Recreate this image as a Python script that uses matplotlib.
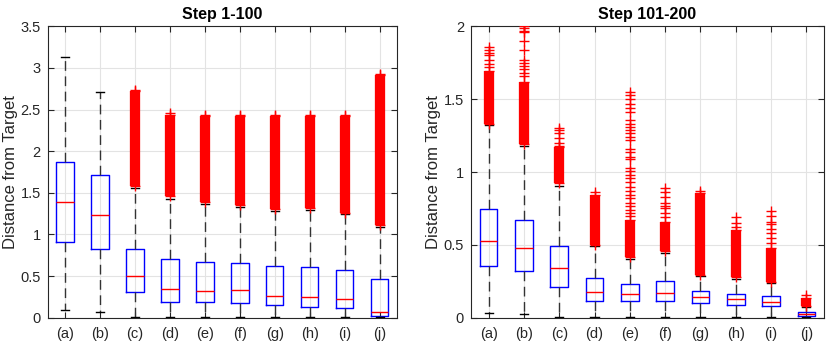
import matplotlib
matplotlib.use("Agg")
import matplotlib.pyplot as plt
import numpy as np

plt.rcParams['font.family'] = ['Liberation Sans', 'DejaVu Sans']

labels = ['(a)', '(b)', '(c)', '(d)', '(e)', '(f)', '(g)', '(h)', '(i)', '(j)']

# ---- Step 1-100 ----
s1_q1 = [0.905, 0.821, 0.304, 0.192, 0.184, 0.180, 0.156, 0.132, 0.116, 0.024]
s1_med = [1.386, 1.233, 0.497, 0.340, 0.324, 0.328, 0.256, 0.248, 0.220, 0.064]
s1_q3 = [1.870, 1.710, 0.821, 0.700, 0.665, 0.653, 0.617, 0.609, 0.577, 0.460]
s1_wlo = [0.088, 0.072, 0.008, 0.005, 0.005, 0.005, 0.005, 0.005, 0.005, 0.003]
s1_whi = [3.136, 2.710, 1.560, 1.430, 1.370, 1.330, 1.280, 1.290, 1.240, 1.090]
s1_band_lo = [None, None, 1.585, 1.460, 1.390, 1.355, 1.300, 1.318, 1.262, 1.113]
s1_band_hi = [None, None, 2.720, 2.440, 2.420, 2.420, 2.420, 2.420, 2.420, 2.910]
s1_sparse = [[], [], [2.74], [2.46], [2.44], [2.44], [2.44], [2.44], [2.44], [2.93]]

# ---- Step 101-200 ----
s2_q1 = [0.352, 0.323, 0.213, 0.112, 0.112, 0.112, 0.103, 0.089, 0.078, 0.011]
s2_med = [0.524, 0.476, 0.341, 0.178, 0.165, 0.172, 0.140, 0.126, 0.108, 0.023]
s2_q3 = [0.746, 0.673, 0.494, 0.272, 0.233, 0.252, 0.181, 0.165, 0.149, 0.039]
s2_wlo = [0.030, 0.025, 0.005, 0.004, 0.004, 0.004, 0.004, 0.004, 0.004, 0.003]
s2_whi = [1.320, 1.180, 0.905, 0.490, 0.405, 0.445, 0.285, 0.268, 0.240, 0.075]
s2_band_lo = [1.329, 1.192, 0.922, 0.499, 0.419, 0.455, 0.293, 0.277, 0.247, 0.080]
s2_band_hi = [1.690, 1.620, 1.175, 0.845, 0.670, 0.660, 0.858, 0.600, 0.476, 0.133]
s2_sparse = [
    [1.86, 1.84, 1.82, 1.80, 1.77, 1.74, 1.72],
    [2.00, 1.99, 1.97, 1.96, 1.90, 1.84, 1.77, 1.75, 1.73, 1.71, 1.68, 1.66],
    [1.30, 1.29, 1.27, 1.23, 1.20, 1.18],
    [0.86],
    [1.55, 1.53, 1.50, 1.47, 1.44, 1.41, 1.36, 1.33, 1.31, 1.29, 1.27, 1.24,
     1.22, 1.16, 1.14, 1.10, 1.09, 1.03, 1.01, 0.98, 0.96, 0.93, 0.90, 0.87,
     0.84, 0.82, 0.79, 0.77, 0.74, 0.72, 0.70],
    [0.89, 0.865, 0.83, 0.79, 0.77, 0.75, 0.72, 0.69],
    [0.87],
    [0.69, 0.65, 0.625],
    [0.73, 0.70, 0.66, 0.64, 0.61, 0.58, 0.545, 0.51],
    [0.156],
]

panels = [
    dict(title='Step 1-100', ylim=(0, 3.5), yticks=[0, 0.5, 1, 1.5, 2, 2.5, 3, 3.5],
         q1=s1_q1, med=s1_med, q3=s1_q3, wlo=s1_wlo, whi=s1_whi,
         blo=s1_band_lo, bhi=s1_band_hi, sparse=s1_sparse,
         rect=[47.7 / 830, 39.3 / 357, 349.3 / 830, 291.4 / 357]),
    dict(title='Step 101-200', ylim=(0, 2), yticks=[0, 0.5, 1, 1.5, 2],
         q1=s2_q1, med=s2_med, q3=s2_q3, wlo=s2_wlo, whi=s2_whi,
         blo=s2_band_lo, bhi=s2_band_hi, sparse=s2_sparse,
         rect=[471 / 830, 39.3 / 357, 353 / 830, 291.4 / 357]),
]

fig = plt.figure(figsize=(8.3, 3.57), dpi=100)
dark = '#262626'

for p in panels:
    ax = fig.add_axes(p['rect'])
    pos = np.arange(1, len(labels) + 1)
    stats = []
    for i in range(len(labels)):
        stats.append(dict(med=p['med'][i], q1=p['q1'][i], q3=p['q3'][i],
                          whislo=p['wlo'][i], whishi=p['whi'][i], fliers=[]))
    ax.bxp(stats, positions=pos, widths=0.5, capwidths=0.23, showfliers=False,
           boxprops=dict(color='#0000ff', linewidth=1.0),
           medianprops=dict(color='#ff0000', linewidth=1.0),
           whiskerprops=dict(color='#333333', linewidth=1.0, linestyle=(0, (7, 4))),
           capprops=dict(color='black', linewidth=1.0),
           manage_ticks=False, zorder=3)
    # outliers
    for i in range(len(labels)):
        x = pos[i]
        if p['blo'][i] is not None:
            ax.vlines(x, p['blo'][i], p['bhi'][i], colors='#ff0000', linewidth=7.4,
                      capstyle='butt', zorder=4)
            ax.plot([x, x], [p['blo'][i], p['bhi'][i]], linestyle='none', marker='+',
                    markersize=7.4, markeredgewidth=1.0, color='#ff0000', zorder=4)
        if p['sparse'][i]:
            ax.plot([x] * len(p['sparse'][i]), p['sparse'][i], linestyle='none',
                    marker='+', markersize=7.4, markeredgewidth=1.0, color='#ff0000',
                    zorder=4)
    ax.set_xlim(0.5, len(labels) + 0.5)
    ax.set_ylim(*p['ylim'])
    ax.set_yticks(p['yticks'])
    ax.set_yticklabels([f'{t:g}' for t in p['yticks']])
    ax.set_xticks(pos)
    ax.set_xticklabels(labels)
    ax.grid(True, color='#e3e3e3', linewidth=0.8, zorder=0)
    ax.set_axisbelow(True)
    ax.tick_params(direction='in', top=True, right=True, length=4, width=0.8,
                   colors=dark, labelsize=10.5)
    ax.tick_params(axis='x', pad=7)
    ax.tick_params(axis='y', pad=5)
    for sp in ax.spines.values():
        sp.set_color(dark)
        sp.set_linewidth(0.8)
    ax.set_title(p['title'], fontsize=11.5, fontweight='bold', pad=5)
    ax.set_ylabel('Distance from Target', fontsize=12, color=dark, labelpad=2)

fig.savefig('out.png', dpi=100)
